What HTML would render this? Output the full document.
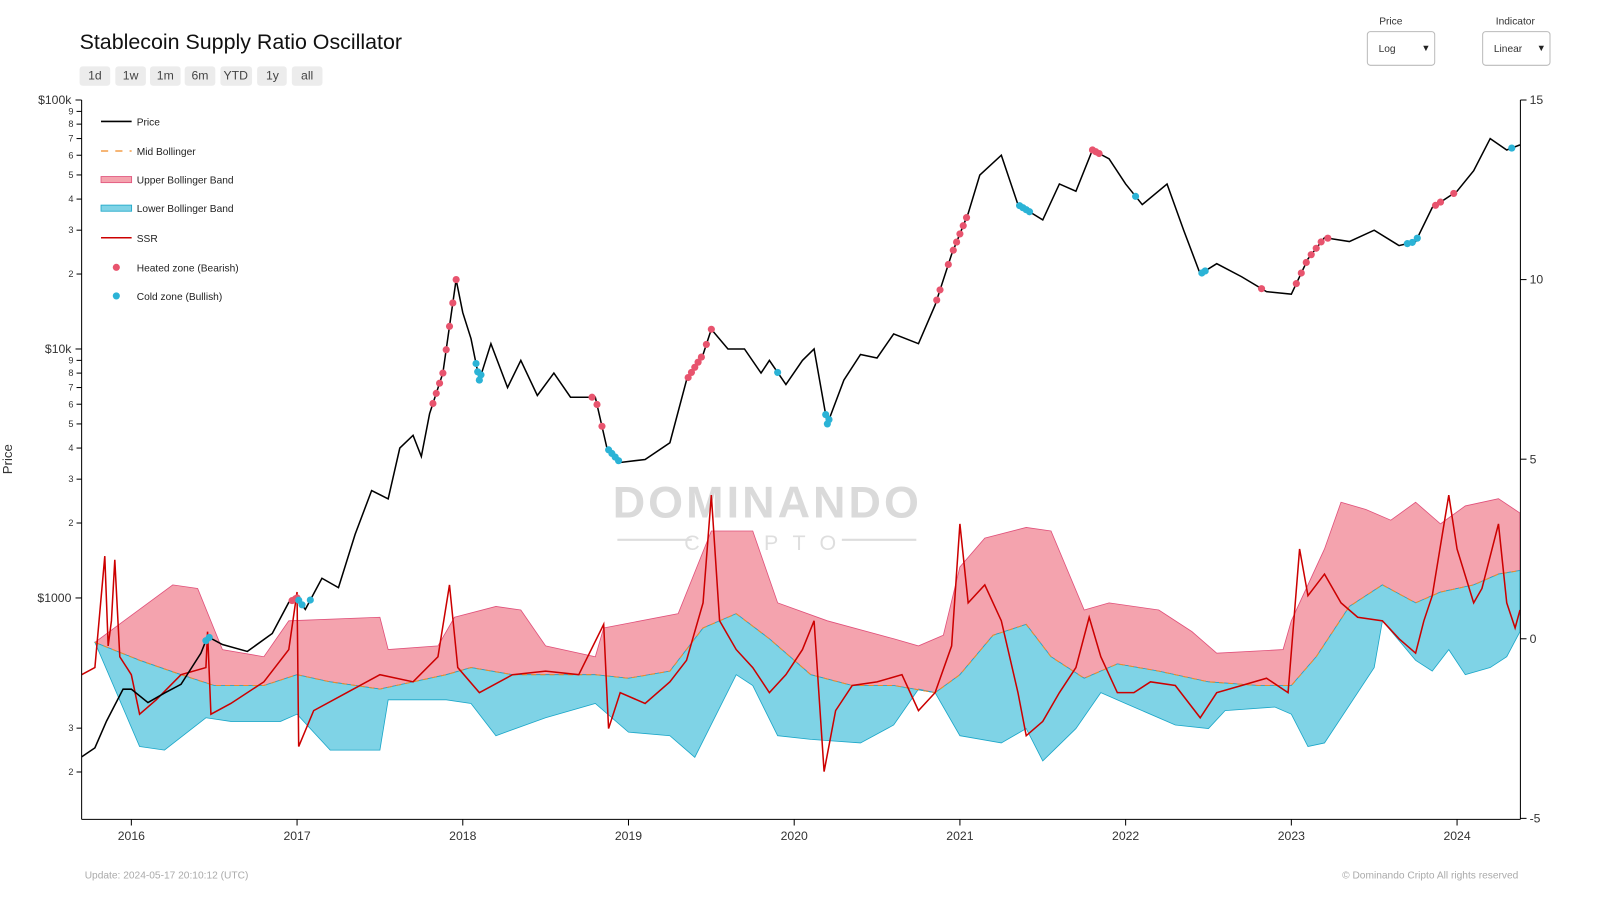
<!DOCTYPE html>
<html><head><meta charset="utf-8"><style>
body{margin:0;background:#fff;font-family:"Liberation Sans",sans-serif;}
svg{display:block}
.btn{fill:#ececec}
</style></head><body>
<svg id="chart" width="1600" height="900" viewBox="0 0 1568 882">
<text x="78" y="48" font-size="21" fill="#111">Stablecoin Supply Ratio Oscillator</text>
<g font-size="12" fill="#444" text-anchor="middle">
<g><rect class="btn" x="78" y="65" width="30" height="19" rx="3"/><text x="93" y="78">1d</text></g>
<g><rect class="btn" x="113" y="65" width="30" height="19" rx="3"/><text x="128" y="78">1w</text></g>
<g><rect class="btn" x="147" y="65" width="30" height="19" rx="3"/><text x="162" y="78">1m</text></g>
<g><rect class="btn" x="181" y="65" width="30" height="19" rx="3"/><text x="196" y="78">6m</text></g>
<g><rect class="btn" x="216" y="65" width="31" height="19" rx="3"/><text x="231" y="78">YTD</text></g>
<g><rect class="btn" x="252" y="65" width="29" height="19" rx="3"/><text x="267" y="78">1y</text></g>
<g><rect class="btn" x="286" y="65" width="30" height="19" rx="3"/><text x="301" y="78">all</text></g>
</g>
<text x="1363" y="24" font-size="10" fill="#333" text-anchor="middle">Price</text>
<g><rect x="1340" y="31" width="66" height="33" rx="3" fill="#fff" stroke="#bbb"/><text x="1351" y="51" font-size="10" fill="#333">Log</text><text x="1393" y="50" font-size="9" fill="#222">▼</text></g>
<text x="1485" y="24" font-size="10" fill="#333" text-anchor="middle">Indicator</text>
<g><rect x="1453" y="31" width="66" height="33" rx="3" fill="#fff" stroke="#bbb"/><text x="1464" y="51" font-size="10" fill="#333">Linear</text><text x="1506" y="50" font-size="9" fill="#222">▼</text></g>

<g fill="#d8d8d8">
<text x="752" y="507" font-size="44" text-anchor="middle" letter-spacing="3" style="font-weight:bold" fill="#dadada">DOMINANDO</text>
<text x="752" y="539" font-size="21" text-anchor="middle" letter-spacing="14" fill="#dedede">CRIPTO</text>
<line x1="605" y1="529" x2="678" y2="529" stroke="#ddd" stroke-width="2"/><line x1="825" y1="529" x2="898" y2="529" stroke="#ddd" stroke-width="2"/>
</g>
<g id="plot"></g>
<g id="axes"></g>
<text transform="translate(12,450) rotate(-90)" font-size="13" fill="#333" text-anchor="middle">Price</text>
<g font-size="10" fill="#222">
<g><line x1="99" y1="119" x2="129" y2="119" stroke="#000" stroke-width="1.5"/><text x="134" y="123">Price</text></g>
<g><line x1="99" y1="148" x2="129" y2="148" stroke="#f08a24" stroke-width="1.2" stroke-dasharray="7,7"/><text x="134" y="152">Mid Bollinger</text></g>
<g><rect x="99" y="173" width="30" height="6" fill="#f4a3ae" stroke="#e0507a" stroke-width="0.8"/><text x="134" y="180">Upper Bollinger Band</text></g>
<g><rect x="99" y="201" width="30" height="6" fill="#7fd3e6" stroke="#1aa6c8" stroke-width="0.8"/><text x="134" y="208">Lower Bollinger Band</text></g>
<g><line x1="99" y1="233" x2="129" y2="233" stroke="#cc0000" stroke-width="1.5"/><text x="134" y="237">SSR</text></g>
<g><circle cx="114" cy="262" r="3.5" fill="#e8546e"/><text x="134" y="266">Heated zone (Bearish)</text></g>
<g><circle cx="114" cy="290" r="3.5" fill="#2bb3d6"/><text x="134" y="294">Cold zone  (Bullish)</text></g>
</g>
<text x="83" y="861" font-size="10" fill="#aaa">Update: 2024-05-17 20:10:12 (UTC)</text>
<text x="1488" y="861" font-size="10" fill="#aaa" text-anchor="end">© Dominando Cripto All rights reserved</text>
</svg>
<script>
const priceDates=[2015.70,2015.78,2015.85,2015.95,2016.0,2016.1,2016.2,2016.3,2016.42,2016.46,2016.55,2016.7,2016.85,2016.95,2017.0,2017.05,2017.15,2017.25,2017.35,2017.45,2017.55,2017.62,2017.7,2017.75,2017.8,2017.88,2017.96,2018.0,2018.05,2018.1,2018.17,2018.27,2018.35,2018.45,2018.55,2018.65,2018.8,2018.87,2018.95,2019.1,2019.25,2019.35,2019.45,2019.5,2019.6,2019.7,2019.8,2019.85,2019.95,2020.05,2020.12,2020.2,2020.3,2020.4,2020.5,2020.6,2020.75,2020.85,2020.95,2021.05,2021.12,2021.25,2021.35,2021.5,2021.6,2021.7,2021.8,2021.9,2022.0,2022.1,2022.25,2022.35,2022.45,2022.55,2022.7,2022.85,2023.0,2023.1,2023.2,2023.35,2023.5,2023.65,2023.75,2023.85,2024.0,2024.1,2024.2,2024.3,2024.38];
const priceValues=[230,250,320,430,430,380,415,450,600,700,650,610,720,960,1000,900,1200,1100,1800,2700,2500,4000,4500,3700,5500,8000,19000,14000,11000,7500,10500,7000,9000,6500,8000,6400,6400,4000,3500,3600,4200,7500,9500,12000,10000,10000,8000,9000,7200,9000,10000,5000,7500,9500,9200,11500,10500,15000,24000,35000,50000,60000,38000,33000,46000,43000,63000,58000,46000,38000,46000,30000,20000,22000,19500,17000,16600,23000,28000,27000,30000,26000,27000,37000,43000,52000,70000,63000,66000];
const ssrDates=[2015.70,2015.78,2015.84,2015.86,2015.88,2015.9,2015.93,2016.0,2016.05,2016.15,2016.3,2016.45,2016.46,2016.48,2016.6,2016.8,2016.95,2017.0,2017.01,2017.1,2017.3,2017.5,2017.7,2017.85,2017.92,2017.97,2018.1,2018.3,2018.5,2018.7,2018.85,2018.88,2018.95,2019.1,2019.25,2019.35,2019.45,2019.5,2019.55,2019.65,2019.75,2019.85,2019.95,2020.05,2020.12,2020.18,2020.25,2020.35,2020.5,2020.65,2020.75,2020.85,2020.95,2021.0,2021.05,2021.15,2021.25,2021.35,2021.4,2021.5,2021.6,2021.7,2021.78,2021.85,2021.95,2022.05,2022.15,2022.3,2022.45,2022.55,2022.7,2022.85,2022.98,2023.05,2023.1,2023.2,2023.3,2023.4,2023.55,2023.65,2023.75,2023.8,2023.85,2023.95,2024.0,2024.1,2024.15,2024.25,2024.3,2024.35,2024.38];
const ssrValues=[-1.0,-0.8,2.3,-0.2,0.5,2.2,-0.5,-1.0,-2.1,-1.7,-1.0,-0.8,0.2,-2.1,-1.8,-1.2,-0.3,1.3,-3.0,-2.0,-1.5,-1.0,-1.2,-0.5,1.5,-0.8,-1.5,-1.0,-0.9,-1.0,0.4,-2.5,-1.5,-1.8,-1.2,-0.6,1.0,4.0,0.5,-0.3,-0.8,-1.5,-1.0,-0.3,0.5,-3.7,-2.0,-1.3,-1.2,-1.0,-2.0,-1.5,-0.2,3.2,1.0,1.5,0.5,-1.5,-2.7,-2.3,-1.5,-0.8,0.6,-0.5,-1.5,-1.5,-1.2,-1.3,-2.2,-1.5,-1.3,-1.1,-1.5,2.5,1.2,1.8,1.0,0.6,0.5,0,-0.4,0.5,1.2,4.0,2.5,1.0,1.4,3.2,1.0,0.3,0.8];
const upperDates=[2015.78,2016.25,2016.4,2016.55,2016.8,2016.95,2017.5,2017.55,2017.85,2017.95,2018.2,2018.35,2018.5,2018.8,2018.85,2019.3,2019.5,2019.75,2019.9,2020.2,2020.6,2020.75,2020.9,2021.0,2021.15,2021.4,2021.55,2021.75,2021.9,2022.2,2022.4,2022.55,2022.95,2023.0,2023.2,2023.3,2023.45,2023.6,2023.75,2023.9,2024.05,2024.25,2024.38];
const upperValues=[-0.1,1.5,1.4,-0.3,-0.5,0.5,0.6,-0.3,-0.2,0.6,0.9,0.8,-0.2,-0.5,0.3,0.7,3.0,3.0,1.0,0.5,0,-0.2,0.1,2.0,2.8,3.1,3.0,0.8,1.0,0.8,0.2,-0.4,-0.3,0.5,2.5,3.8,3.6,3.3,3.8,3.2,3.7,3.9,3.5];
const lowerDates=[2015.78,2016.05,2016.2,2016.45,2016.6,2016.9,2017.0,2017.2,2017.5,2017.55,2017.9,2018.05,2018.2,2018.5,2018.8,2019.0,2019.25,2019.4,2019.65,2019.75,2019.9,2020.1,2020.4,2020.6,2020.75,2020.85,2021.0,2021.25,2021.4,2021.5,2021.7,2021.85,2022.0,2022.3,2022.5,2022.6,2022.9,2023.0,2023.1,2023.2,2023.5,2023.55,2023.75,2023.85,2023.95,2024.05,2024.2,2024.3,2024.38];
const lowerValues=[-0.1,-3.0,-3.1,-2.2,-2.3,-2.3,-2.1,-3.1,-3.1,-1.7,-1.7,-1.8,-2.7,-2.2,-1.8,-2.6,-2.7,-3.3,-1.0,-1.3,-2.7,-2.8,-2.9,-2.4,-1.4,-1.5,-2.7,-2.9,-2.5,-3.4,-2.5,-1.5,-1.8,-2.4,-2.5,-2.0,-1.9,-2.1,-3.0,-2.9,-0.8,0.5,-0.6,-0.9,-0.3,-1.0,-0.8,-0.5,0.2];
const midDates=[2015.78,2016.05,2016.3,2016.5,2016.8,2017.0,2017.2,2017.5,2017.7,2017.9,2018.05,2018.3,2018.6,2018.8,2019.0,2019.25,2019.45,2019.65,2019.85,2020.1,2020.35,2020.6,2020.85,2021.0,2021.2,2021.4,2021.55,2021.75,2021.95,2022.2,2022.5,2022.8,2023.0,2023.15,2023.35,2023.55,2023.75,2023.9,2024.1,2024.25,2024.38];
const midValues=[-0.1,-0.6,-1.0,-1.3,-1.3,-1.0,-1.2,-1.4,-1.2,-1.0,-0.8,-1.0,-1.0,-1.0,-1.1,-0.9,0.3,0.7,0,-1.0,-1.3,-1.3,-1.5,-1.0,0.1,0.4,-0.5,-1.1,-0.7,-0.9,-1.2,-1.3,-1.3,-0.5,0.9,1.5,1.0,1.3,1.5,1.8,1.9];
const heatedDates=[2016.97,2016.99,2017.0,2017.82,2017.84,2017.86,2017.88,2017.9,2017.92,2017.94,2017.96,2018.78,2018.81,2018.84,2019.36,2019.38,2019.4,2019.42,2019.44,2019.47,2019.5,2020.86,2020.88,2020.93,2020.96,2020.98,2021.0,2021.02,2021.04,2021.8,2021.82,2021.84,2022.82,2023.03,2023.06,2023.09,2023.12,2023.15,2023.18,2023.22,2023.87,2023.9,2023.98];
const coldDates=[2016.45,2016.47,2017.01,2017.03,2017.08,2018.08,2018.09,2018.1,2018.11,2018.88,2018.9,2018.92,2018.94,2019.9,2020.19,2020.2,2020.21,2021.36,2021.38,2021.4,2021.42,2022.06,2022.46,2022.48,2023.7,2023.73,2023.76,2024.33];
const leftTickLabels=["$100k","$10k","$1000"];
const leftTickValues=[100000,10000,1000];
const rightTickValues=[15,10,5,0,-5];
const yearTicks=[2016,2017,2018,2019,2020,2021,2022,2023,2024];

const X0=80,X1=1490,Y0=98,Y1=803;
const xs=t=>X0+(t-2015.7)*162.4;
const yp=v=>Y0+244*(5-Math.log10(v));
const yr=v=>626-v*35.2;
const NS="http://www.w3.org/2000/svg";
const plot=document.getElementById('plot'),axes=document.getElementById('axes');
function mk(tag,attrs,parent){const e=document.createElementNS(NS,tag);for(const k in attrs)e.setAttribute(k,attrs[k]);parent.appendChild(e);return e;}
function pts(d,v,f){return d.map((t,i)=>xs(t).toFixed(1)+','+f(v[i]).toFixed(1));}
const midPts=pts(midDates,midValues,yr);
let e=mk('polygon',{points:pts(upperDates,upperValues,yr).concat(midPts.slice().reverse()).join(' '),fill:'#f4a3ae',stroke:'#e0507a','stroke-width':0.8},plot);


e=mk('polygon',{points:pts(lowerDates,lowerValues,yr).concat(midPts.slice().reverse()).join(' '),fill:'#7fd3e6',stroke:'#1aa6c8','stroke-width':0.8},plot);


e=mk('polyline',{points:midPts.join(' '),fill:'none',stroke:'#f08a24','stroke-width':1,'stroke-dasharray':'5,4'},plot);


e=mk('polyline',{points:pts(ssrDates,ssrValues,yr).join(' '),fill:'none',stroke:'#cc0000','stroke-width':1.5},plot);


e=mk('polyline',{points:pts(priceDates,priceValues,yp).join(' '),fill:'none',stroke:'#000','stroke-width':1.5},plot);


function priceAt(t){for(let i=1;i<priceDates.length;i++){if(t<=priceDates[i]){const a=priceDates[i-1],b=priceDates[i],f=(t-a)/(b-a);return Math.pow(10,Math.log10(priceValues[i-1])*(1-f)+Math.log10(priceValues[i])*f);}}return priceValues[priceValues.length-1];}
heatedDates.forEach(t=>{const c=mk('circle',{cx:xs(t),cy:yp(priceAt(t)),r:3.5,fill:'#e8546e'},plot);

});
coldDates.forEach(t=>{const c=mk('circle',{cx:xs(t),cy:yp(priceAt(t)),r:3.5,fill:'#2bb3d6'},plot);

});
e=mk('line',{x1:X0,y1:Y0,x2:X0,y2:Y1,stroke:'#000'},axes);


e=mk('line',{x1:X1,y1:Y0,x2:X1,y2:Y1,stroke:'#000'},axes);


e=mk('line',{x1:X0,y1:Y1,x2:X1,y2:Y1,stroke:'#000'},axes);


leftTickValues.forEach((v,i)=>{mk('line',{x1:X0-6,y1:yp(v),x2:X0,y2:yp(v),stroke:'#000'},axes);
const t=mk('text',{x:X0-10,y:yp(v)+4,'font-size':12,fill:'#333','text-anchor':'end'},axes);t.textContent=leftTickLabels[i];


for(let m=2;m<=9;m++){const mv=v*m;if(mv>=100000)continue;mk('line',{x1:X0-5,y1:yp(mv),x2:X0,y2:yp(mv),stroke:'#000'},axes);
const s=mk('text',{x:X0-8,y:yp(mv)+3,'font-size':9,fill:'#333','text-anchor':'end'},axes);s.textContent=m;

}});
[200,300].forEach(v=>{mk('line',{x1:X0-5,y1:yp(v),x2:X0,y2:yp(v),stroke:'#000'},axes);const s=mk('text',{x:X0-8,y:yp(v)+3,'font-size':9,fill:'#333','text-anchor':'end'},axes);s.textContent=v/100;

});
rightTickValues.forEach(v=>{mk('line',{x1:X1,y1:yr(v),x2:X1+6,y2:yr(v),stroke:'#000'},axes);const t=mk('text',{x:X1+9,y:yr(v)+4,'font-size':12,fill:'#333'},axes);t.textContent=v;

});
yearTicks.forEach(y=>{mk('line',{x1:xs(y),y1:Y1,x2:xs(y),y2:Y1+6,stroke:'#000'},axes);const t=mk('text',{x:xs(y),y:Y1+20,'font-size':12,fill:'#333','text-anchor':'middle'},axes);t.textContent=y;

});
</script>
</body></html>
